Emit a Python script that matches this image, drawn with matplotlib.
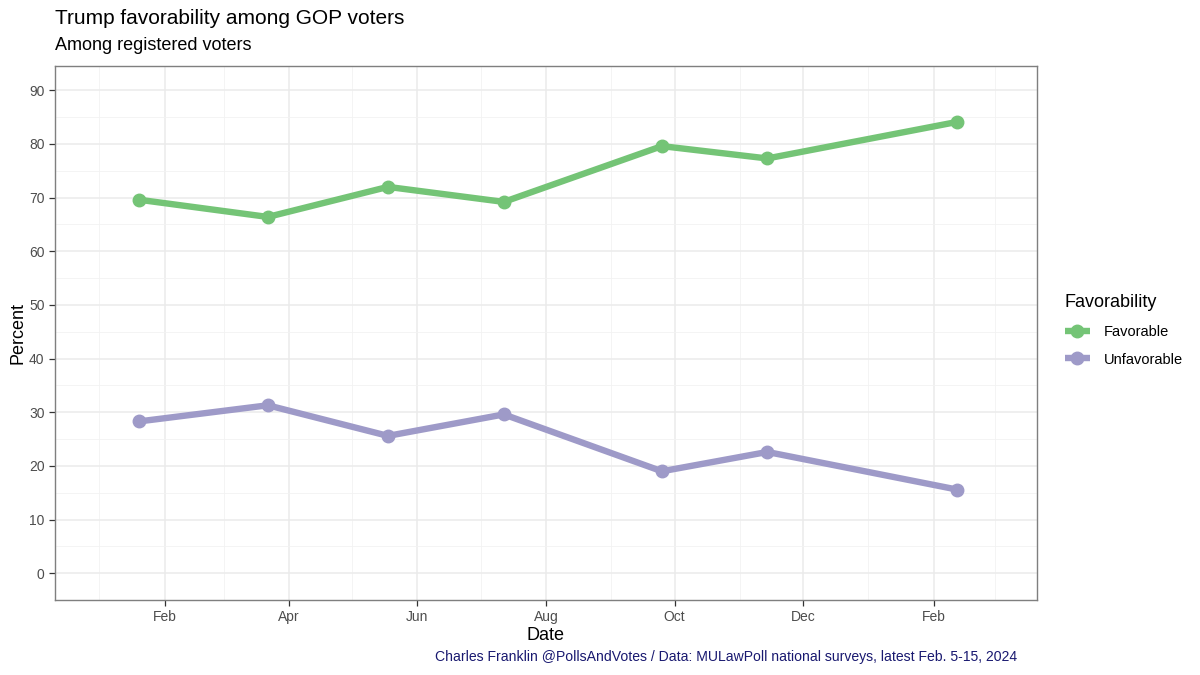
import matplotlib
matplotlib.use("Agg")
import matplotlib.pyplot as plt
import matplotlib.dates as mdates
import pandas as pd
import numpy as np

plt.rcParams['font.family'] = ['Liberation Sans', 'DejaVu Sans']

# survey dates (approx. field midpoints) and results
dates = pd.to_datetime(["2023-01-20", "2023-03-22", "2023-05-18", "2023-07-12",
                        "2023-09-25", "2023-11-14", "2024-02-12"])
favorable = [69.6, 66.4, 72.0, 69.2, 79.6, 77.3, 84.1]
unfavorable = [28.3, 31.3, 25.6, 29.6, 19.0, 22.6, 15.6]

series = ["Favorable", "Unfavorable"]
colors = ["#74C476", "#9E9AC8"]

fig = plt.figure(figsize=(12, 6.75), dpi=100)
ax = fig.add_axes([0.0458, 0.111, 0.8184, 0.791])

for name, vals, col in zip(series, [favorable, unfavorable], colors):
    ax.plot(dates, vals, color=col, lw=4.6, marker="o", ms=9,
            solid_capstyle="butt", label=name, zorder=3)

ax.set_xlim(pd.Timestamp("2022-12-11"), pd.Timestamp("2024-03-21"))
ax.set_ylim(-4.5, 94.5)

ax.xaxis.set_major_locator(mdates.MonthLocator(bymonth=[2, 4, 6, 8, 10, 12]))
ax.xaxis.set_major_formatter(mdates.DateFormatter("%b"))
ax.xaxis.set_minor_locator(mdates.MonthLocator(bymonth=[1, 3, 5, 7, 9, 11]))
ax.set_yticks(np.arange(0, 91, 10))
ax.set_yticks(np.arange(-5, 95, 10), minor=True)

ax.grid(which="major", color="#EBEBEB", lw=1.1, zorder=0)
ax.grid(which="minor", color="#F2F2F2", lw=0.6, zorder=0)
ax.set_axisbelow(True)

for s in ax.spines.values():
    s.set_color("#7F7F7F")
    s.set_linewidth(1.0)

ax.tick_params(which="major", length=4, color="#333333", labelsize=10,
               labelcolor="#4D4D4D", width=0.9)
ax.tick_params(which="minor", length=0)

ax.set_xlabel("Date", fontsize=13, labelpad=2)
ax.set_ylabel("Percent", fontsize=13, labelpad=2)

fig.text(55 / 1200, 1 - 18 / 675, "Trump favorability among GOP voters",
         fontsize=15, va="center", ha="left")
fig.text(55 / 1200, 1 - 46 / 675, "Among registered voters",
         fontsize=13, va="center", ha="left")
fig.text(1017 / 1200, 1 - 657 / 675,
         "Charles Franklin @PollsAndVotes / Data: MULawPoll national surveys, latest Feb. 5-15, 2024",
         fontsize=10.1, color="#191970", va="center", ha="right")

leg = fig.legend(loc="upper left", bbox_to_anchor=(1059 / 1200, 1 - 288 / 675),
                 frameon=False, title="Favorability", fontsize=10.5,
                 title_fontsize=13, handlelength=1.7, handletextpad=1.0,
                 borderaxespad=0, labelspacing=0.95, alignment="left")

fig.savefig("out.png", dpi=100)
